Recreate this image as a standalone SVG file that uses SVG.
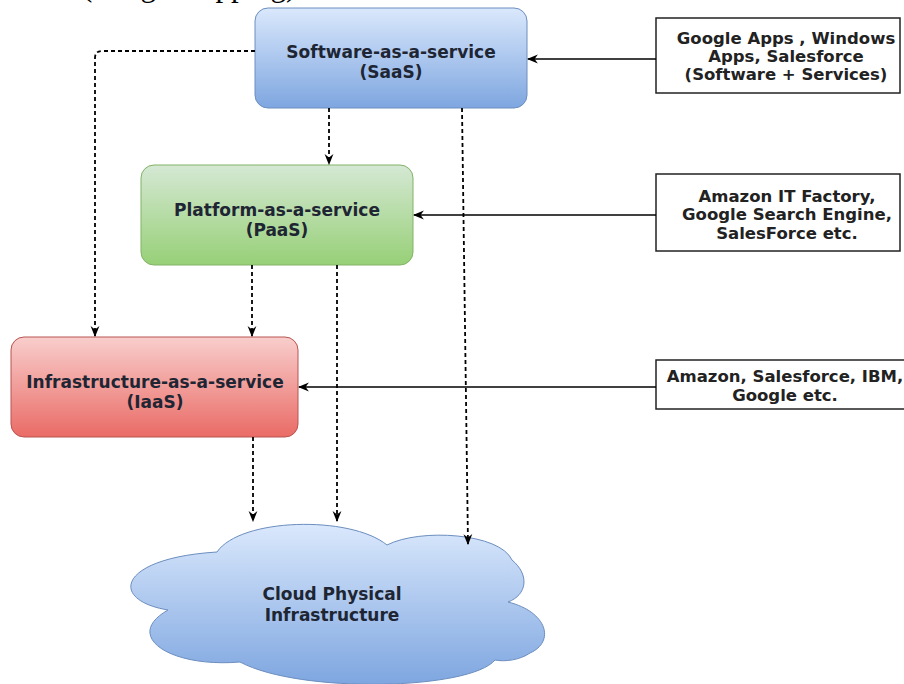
<svg xmlns="http://www.w3.org/2000/svg" width="904" height="684" viewBox="0 0 904 684">
<defs>
<linearGradient id="gBlue" x1="0" y1="0" x2="0" y2="1"><stop offset="0" stop-color="#dae8fc"/><stop offset="1" stop-color="#7ea6e0"/></linearGradient>
<linearGradient id="gGreen" x1="0" y1="0" x2="0" y2="1"><stop offset="0" stop-color="#d5e8d4"/><stop offset="1" stop-color="#97d077"/></linearGradient>
<linearGradient id="gRed" x1="0" y1="0" x2="0" y2="1"><stop offset="0" stop-color="#f8cecc"/><stop offset="1" stop-color="#ea6b66"/></linearGradient>
<linearGradient id="gCloud" x1="0" y1="0" x2="0" y2="1"><stop offset="0" stop-color="#dae8fc"/><stop offset="1" stop-color="#7ea6e0"/></linearGradient>
<marker id="arr" viewBox="0 0 10 10" refX="9" refY="5" markerWidth="11" markerHeight="11" markerUnits="userSpaceOnUse" orient="auto"><path d="M0,1 L10,5 L0,9 L3,5 Z" fill="#000"/></marker>
</defs>
<style>
.lbl{font-family:"DejaVu Sans",Verdana,sans-serif;font-weight:bold;font-size:17px;fill:#1e2533;text-anchor:middle}
.rt{font-family:"DejaVu Sans",Verdana,sans-serif;font-weight:bold;font-size:16.5px;fill:#222;text-anchor:middle}
.rbox{fill:#fff;stroke:#222;stroke-width:1.5}
.solid{fill:none;stroke:#000;stroke-width:1.5;marker-end:url(#arr)}
.dash{fill:none;stroke:#000;stroke-width:1.8;stroke-dasharray:4 3;marker-end:url(#arr)}
</style>
<rect width="904" height="684" fill="#fff"/>
<text x="82" y="-4" font-family="Liberation Serif,serif" font-size="31" fill="#000">(Image mapping)</text>

<g id="saas">
<rect x="255" y="8" width="272" height="100" rx="13" fill="url(#gBlue)" stroke="#6c8ebf" stroke-width="1"/>
<text class="lbl" x="391" y="58">Software-as-a-service</text>
<text class="lbl" x="391" y="78">(SaaS)</text>
</g>

<g id="paas">
<rect x="141" y="165" width="272" height="100" rx="13" fill="url(#gGreen)" stroke="#82b366" stroke-width="1"/>
<text class="lbl" x="277" y="216">Platform-as-a-service</text>
<text class="lbl" x="277" y="236">(PaaS)</text>
</g>

<g id="iaas">
<rect x="11" y="337" width="287" height="100" rx="13" fill="url(#gRed)" stroke="#b85450" stroke-width="1"/>
<text class="lbl" x="155" y="388">Infrastructure-as-a-service</text>
<text class="lbl" x="155" y="408">(IaaS)</text>
</g>

<g id="saas-examples">
<rect class="rbox" x="656" y="18" width="244" height="75"/>
<text class="rt" x="786" y="44">Google Apps , Windows</text>
<text class="rt" x="786" y="62">Apps, Salesforce</text>
<text class="rt" x="786" y="80">(Software +  Services)</text>
</g>

<g id="paas-examples">
<rect class="rbox" x="656" y="174" width="244" height="77"/>
<text class="rt" x="787" y="202">Amazon IT Factory,</text>
<text class="rt" x="787" y="220">Google Search Engine,</text>
<text class="rt" x="787" y="239">SalesForce etc.</text>
</g>

<g id="iaas-examples">
<rect class="rbox" x="656" y="360" width="260" height="49"/>
<text class="rt" x="785" y="382">Amazon, Salesforce, IBM,</text>
<text class="rt" x="785" y="401">Google etc.</text>
</g>

<g id="cloud">
<path d="M217,552 C240,518 350,515 387,545 C420,528 500,533 512,560 C530,575 527,595 508,602 C548,612 555,642 530,653 C520,660 505,662 495,660 C470,690 300,694 240,662 C170,668 122,636 168,610 C108,600 118,558 217,552 Z" fill="url(#gCloud)" stroke="#6c8ebf" stroke-width="1"/>
<text class="lbl" x="332" y="600">Cloud Physical</text>
<text class="lbl" x="332" y="621">Infrastructure</text>
</g>

<g id="connectors">
<path class="solid" d="M656,59 H528"/>
<path class="solid" d="M656,215 H414"/>
<path class="solid" d="M656,387 H299"/>
<path class="dash" d="M255,51 H102 Q95,51 95,58 V336"/>
<path class="dash" d="M329,108 V164"/>
<path class="dash" d="M462,108 L468,544"/>
<path class="dash" d="M252,265 V336"/>
<path class="dash" d="M337,265 V521"/>
<path class="dash" d="M253,437 V521"/>
</g>
</svg>
